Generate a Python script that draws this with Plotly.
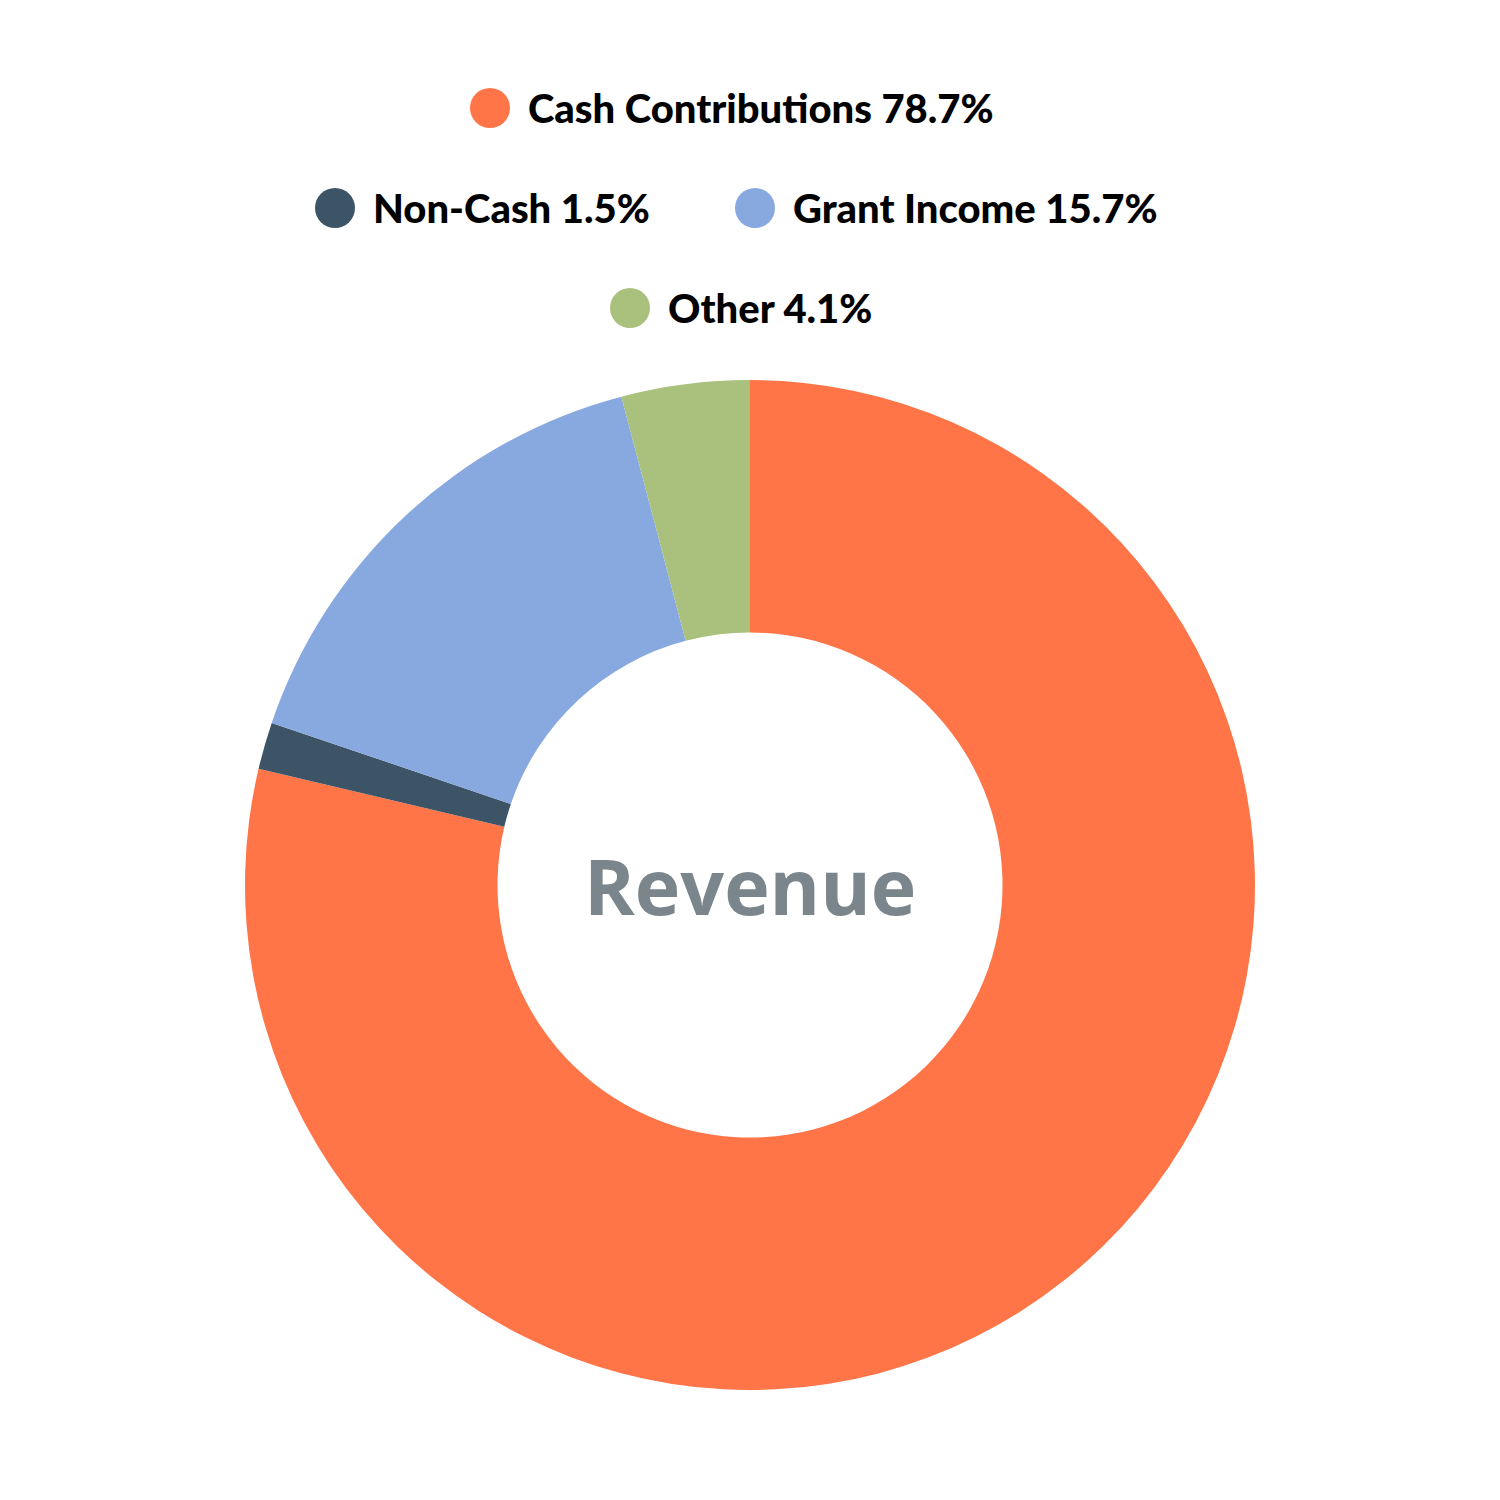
import plotly.graph_objects as go

labels = ['Cash Contributions', 'Non-Cash', 'Grant Income', 'Other']
values = [78.7, 1.5, 15.7, 4.1]
colors = ['#FF7548', '#3D5366', '#88A8E0', '#A9C17D']

# legend item placement in pixels (circle centre x, row centre y)
legend_pos = [(490, 108), (335, 208), (755, 208), (630, 308)]

W, H = 1500, 1500
OFF = 8  # page body margin


def px(x):
    return (x - OFF) / W


def py(y):
    return 1 - (y - OFF) / H


fig = go.Figure()

fig.add_trace(go.Pie(
    labels=labels, values=values, hole=0.5, sort=False, direction='clockwise',
    rotation=0, marker=dict(colors=colors, line=dict(width=0)),
    textinfo='none', showlegend=False,
    domain=dict(x=[px(245), px(1255)], y=[py(1390), py(380)])
))

shapes = []
annotations = []
for lab, val, col, (cx, cy) in zip(labels, values, colors, legend_pos):
    r = 20
    shapes.append(dict(type='circle', xref='paper', yref='paper',
                       x0=px(cx - r), x1=px(cx + r), y0=py(cy + r), y1=py(cy - r),
                       fillcolor=col, line=dict(width=0)))
    annotations.append(dict(text=f'{lab} {val}%', xref='paper', yref='paper',
                            x=px(cx + 36), y=py(cy), xanchor='left', yanchor='middle',
                            showarrow=False,
                            font=dict(family='Lato', size=40, color='#000000', weight=900)))

annotations.append(dict(text='Revenue', xref='paper', yref='paper', x=px(750), y=py(885),
                        xanchor='center', yanchor='middle', showarrow=False,
                        font=dict(family='Open Sans', size=77, color='#7B868C', weight='bold')))

fig.update_layout(
    width=W, height=H,
    margin=dict(l=0, r=0, t=0, b=0),
    paper_bgcolor='white',
    plot_bgcolor='white',
    shapes=shapes,
    annotations=annotations
)

fig.write_html('out.html')
